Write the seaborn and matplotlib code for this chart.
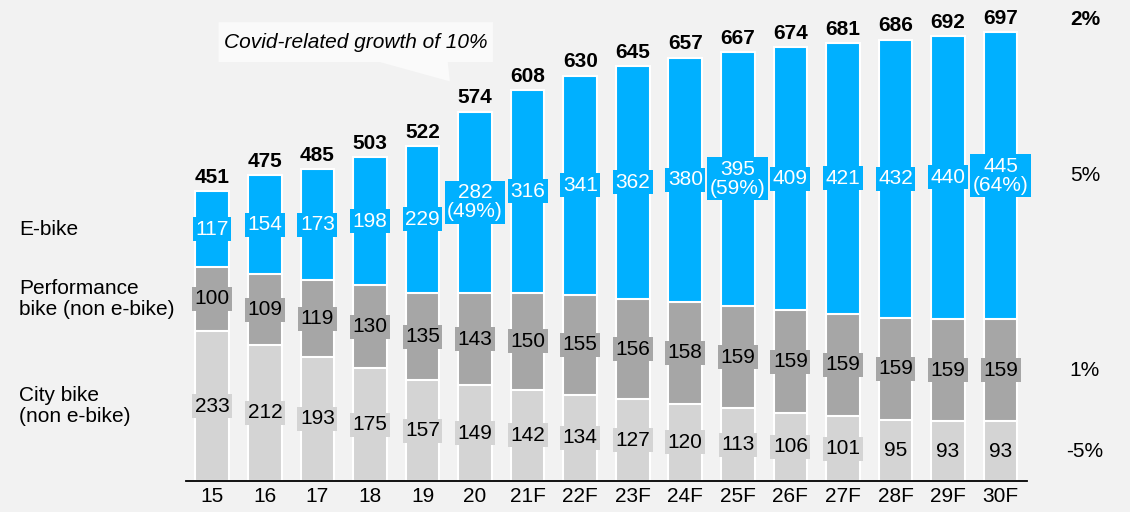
import pandas as pd
import matplotlib
matplotlib.use("Agg")
import matplotlib.pyplot as plt
import matplotlib.transforms as mtransforms
from matplotlib.patches import Polygon
import seaborn as sns

# === Data ===
years = ["15", "16", "17", "18", "19", "20", "21F", "22F", "23F", "24F",
         "25F", "26F", "27F", "28F", "29F", "30F"]
city_bike = [233, 212, 193, 175, 157, 149, 142, 134, 127, 120, 113, 106, 101, 95, 93, 93]
performance_bike = [100, 109, 119, 130, 135, 143, 150, 155, 156, 158, 159, 159, 159, 159, 159, 159]
e_bike = [117, 154, 173, 198, 229, 282, 316, 341, 362, 380, 395, 409, 421, 432, 440, 445]
totals = [451, 475, 485, 503, 522, 574, 608, 630, 645, 657, 667, 674, 681, 686, 692, 697]
ebike_share = {"20": "49%", "25F": "59%", "30F": "64%"}
segment_names = ["E-bike", "Performance\nbike (non e-bike)", "City bike\n(non e-bike)"]
cagr_total = "2%"
cagr_segments = ["5%", "1%", "-5%"]  # e-bike, performance, city
callout_text = "Covid-related growth of 10%"

# === Style ===
BG = "#F2F2F2"
BLUE = "#00B0FF"
GRAY = "#A6A6A6"
LIGHT = "#D4D4D4"
FS = 15

sns.set_theme(style="white")
plt.rcParams["font.family"] = ["Liberation Sans", "DejaVu Sans"]

df = pd.DataFrame({"year": years, "city": city_bike,
                   "perf": performance_bike, "ebike": e_bike})
df["city_top"] = df["city"]
df["perf_top"] = df["city"] + df["perf"]
df["ebike_top"] = df["perf_top"] + df["ebike"]

fig = plt.figure(figsize=(11.3, 5.12), dpi=100, facecolor=BG)
ax = fig.add_axes([0.1646, 0.0605, 0.7442, 0.905], facecolor=BG)

# stacked bars drawn as overlapping cumulative bars
for col, color in [("ebike_top", BLUE), ("perf_top", GRAY), ("city_top", LIGHT)]:
    sns.barplot(data=df, x="year", y=col, order=years, color=color,
                saturation=1, width=0.64, edgecolor="white", linewidth=1.5,
                errorbar=None, ax=ax)

ax.set_ylim(0, 720)
ax.set_xlim(-0.5, len(years) - 0.5)
ax.set_xlabel("")
ax.set_ylabel("")
ax.set_yticks([])
ax.tick_params(axis="x", length=0, pad=4, labelsize=FS, colors="black")
for s in ["top", "right", "left"]:
    ax.spines[s].set_visible(False)
ax.spines["bottom"].set_color("black")
ax.spines["bottom"].set_linewidth(1.3)
ax.spines["bottom"].set_zorder(5)

# === Segment labels ===
def box(fc):
    return dict(boxstyle="square,pad=0.12", fc=fc, ec="none")

for i, row in df.iterrows():
    ax.text(i, row["city"] / 2, str(row["city"]), ha="center", va="center",
            fontsize=FS, color="black", bbox=box(LIGHT), zorder=4)
    ax.text(i, row["city_top"] + row["perf"] / 2, str(row["perf"]), ha="center",
            va="center", fontsize=FS, color="black", bbox=box(GRAY), zorder=4)
    lab = str(row["ebike"])
    if row["year"] in ebike_share:
        lab += "\n(" + ebike_share[row["year"]] + ")"
    ax.text(i, row["perf_top"] + row["ebike"] / 2, lab, ha="center", va="center",
            fontsize=FS, color="white", bbox=box(BLUE), zorder=4,
            linespacing=1.0)
    ax.annotate(str(totals[i]), (i, row["ebike_top"]), xytext=(0, 3),
                textcoords="offset points", ha="center", va="bottom",
                fontsize=FS, fontweight="bold", color="black")

# === Left segment names (aligned to first bar) ===
trans = mtransforms.blended_transform_factory(ax.transAxes, ax.transData)
first = df.iloc[0]
left_y = [first["perf_top"] + first["ebike"] / 2,
          first["city_top"] + first["perf"] / 2,
          first["city"] / 2]
for name, y in zip(segment_names, left_y):
    ax.text(-0.1986, y, name, transform=trans, ha="left", va="center",
            fontsize=FS, color="black", linespacing=1.15)

# === Right CAGR labels (aligned to last bar) ===
last = df.iloc[-1]
right_y = [last["perf_top"] + last["ebike"] / 2,
           last["city_top"] + last["perf"] / 2,
           last["city"] / 2]
ax.text(1.069, last["ebike_top"] + 20, cagr_total, transform=trans, ha="center",
        va="center", fontsize=FS, fontweight="bold", color="black")
for lab, y in zip(cagr_segments, right_y):
    ax.text(1.069, y, lab, transform=trans, ha="center", va="center",
            fontsize=FS, color="black")

# === Callout bubble ===
bx0, bx1, by0, by1 = 0.12, 5.34, 651, 713
tail = [(4.48, by0), (4.52, 621), (3.19, by0)]
bubble = Polygon([(bx0, by1), (bx1, by1), (bx1, by0)] + tail + [(bx0, by0)],
                 closed=True, fc="#FAFAFA", ec="none", zorder=3, clip_on=False)
ax.add_patch(bubble)
ax.text((bx0 + bx1) / 2, (by0 + by1) / 2, callout_text, ha="center", va="center",
        fontsize=FS, style="italic", color="black", zorder=4)

plt.savefig("out.png", dpi=100, facecolor=BG)
